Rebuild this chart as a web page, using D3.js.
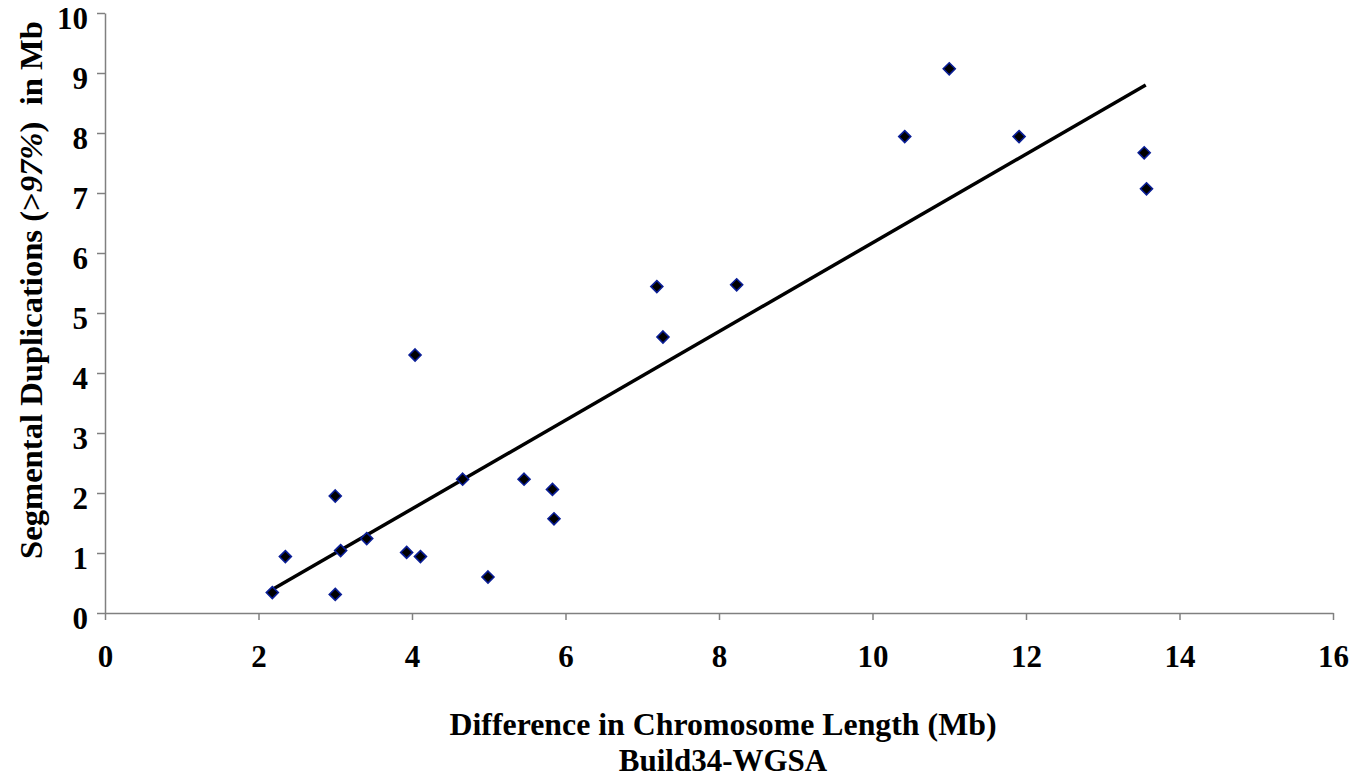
<!DOCTYPE html>
<html>
<head>
<meta charset="utf-8">
<script src="https://cdn.jsdelivr.net/npm/d3@7"></script>
<style>
  body { margin: 0; background: #fff; }
  svg { display: block; }
  .lbl { font-family: "Liberation Serif", "Times New Roman", serif; font-weight: bold; fill: #000; }
</style>
</head>
<body>
<svg width="1357" height="778"></svg>
<script>
// values
var diffLen = [2.18, 2.35, 3.00, 3.00, 3.07, 3.41, 3.93, 4.11, 4.04, 4.66, 4.99, 5.46, 5.83, 5.85, 7.19, 7.27, 8.23, 10.42, 11.00, 11.91, 13.54, 13.57];
var segDup  = [0.34, 0.94, 1.95, 0.31, 1.04, 1.24, 1.01, 0.94, 4.30, 2.23, 0.60, 2.23, 2.06, 1.57, 5.44, 4.60, 5.47, 7.94, 9.07, 7.94, 7.67, 7.07];
var trendX  = [2.18, 13.56];
var trendY  = [0.39, 8.80];
var xTicks  = [0, 2, 4, 6, 8, 10, 12, 14, 16];
var yTicks  = [0, 1, 2, 3, 4, 5, 6, 7, 8, 9, 10];

var svg = d3.select("svg");
svg.append("rect").attr("width", 1357).attr("height", 778).attr("fill", "#fff");

var xScale = d3.scaleLinear().domain([0, 16]).range([105, 1333]);
var yScale = d3.scaleLinear().domain([0, 10]).range([613, 13]);

// axes
var xAxis = svg.append("g")
    .attr("transform", "translate(0,613)")
    .call(d3.axisBottom(xScale).tickValues(xTicks).tickSize(7).tickSizeOuter(0));
var yAxis = svg.append("g")
    .attr("transform", "translate(105,0)")
    .call(d3.axisLeft(yScale).tickValues(yTicks).tickSize(8).tickSizeOuter(0));

[xAxis, yAxis].forEach(function(ax) {
  ax.select(".domain").attr("stroke", "#808080").attr("stroke-width", 1.5);
  ax.selectAll(".tick line").attr("stroke", "#808080").attr("stroke-width", 1.5);
  ax.selectAll(".tick text").attr("class", "lbl").attr("font-size", 31).attr("fill", "#000");
});
xAxis.selectAll(".tick text").attr("dy", null).attr("y", 54);
yAxis.selectAll(".tick text").attr("dy", null).attr("x", -17).attr("y", 15);

// trend line
var line = d3.line()
    .x(function(d) { return xScale(d[0]); })
    .y(function(d) { return yScale(d[1]); });
svg.append("path")
    .datum(d3.zip(trendX, trendY))
    .attr("d", line)
    .attr("fill", "none")
    .attr("stroke", "#000")
    .attr("stroke-width", 3.5);

// diamond markers
var pts = d3.zip(diffLen, segDup);
svg.selectAll(".pt")
  .data(pts)
  .enter().append("path")
    .attr("class", "pt")
    .attr("d", "M0,-6L6,0L0,6L-6,0Z")
    .attr("transform", function(d) { return "translate(" + xScale(d[0]) + "," + yScale(d[1]) + ")"; })
    .attr("fill", "#000")
    .attr("stroke", "#0a1e96")
    .attr("stroke-width", 1.6);

// axis titles
svg.append("text")
    .attr("class", "lbl")
    .attr("font-size", 31)
    .attr("text-anchor", "middle")
    .attr("x", 723).attr("y", 735)
    .attr("textLength", 547).attr("lengthAdjust", "spacingAndGlyphs")
    .text("Difference in Chromosome Length (Mb)");
svg.append("text")
    .attr("class", "lbl")
    .attr("font-size", 31)
    .attr("text-anchor", "middle")
    .attr("x", 723).attr("y", 771)
    .text("Build34-WGSA");

var yt = svg.append("text")
    .attr("class", "lbl")
    .attr("font-size", 32)
    .attr("text-anchor", "middle")
    .attr("textLength", 538).attr("lengthAdjust", "spacingAndGlyphs")
    .attr("transform", "translate(42,290) rotate(-90)");
yt.append("tspan").text("Segmental Duplications (>");
yt.append("tspan").attr("font-style", "italic").text("97%");
yt.append("tspan").attr("xml:space", "preserve").text(")  in Mb");
</script>
</body>
</html>
